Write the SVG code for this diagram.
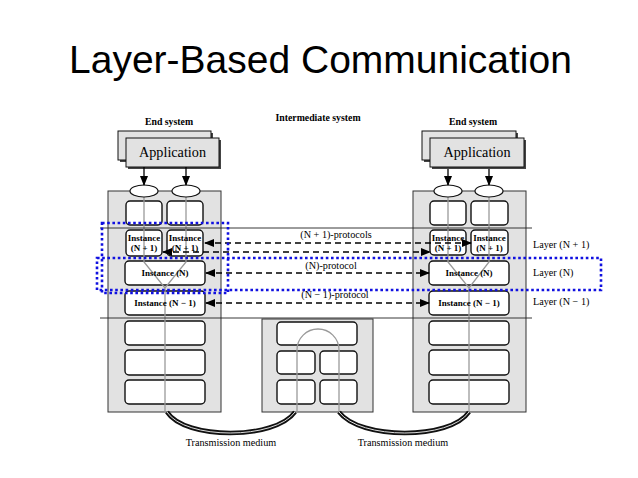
<svg xmlns="http://www.w3.org/2000/svg" width="638" height="478" viewBox="0 0 638 478">
<style>
.title{font-family:"Liberation Sans",Arial,sans-serif;font-size:39px;fill:#000}
.hdr{font-family:"Liberation Serif","Times New Roman",serif;font-weight:bold;font-size:9.8px;fill:#000}
.app{font-family:"Liberation Serif","Times New Roman",serif;font-size:14.2px;fill:#000}
.inst{font-family:"Liberation Serif","Times New Roman",serif;font-weight:bold;font-size:9px;fill:#000}
.lbl{font-family:"Liberation Serif","Times New Roman",serif;font-size:10.2px;fill:#000}
.sys{fill:#e2e2e2;stroke:#333;stroke-width:1}
.box{fill:#fff;stroke:#111;stroke-width:1.4}
.appbox{fill:#e2e2e2;stroke:#111;stroke-width:1}
.shadow{fill:#444}
.gray{fill:none;stroke:#9a9a9a;stroke-width:1.3}
.hline{stroke:#222;stroke-width:0.9}
.dash{stroke:#000;stroke-width:1.4;stroke-dasharray:6,4;fill:none}
.cable{fill:none;stroke:#111;stroke-width:4.5}
.cablein{fill:none;stroke:#ddd;stroke-width:1}
.blue{fill:none;stroke:#1010e0;stroke-width:2.6;stroke-dasharray:2.6,2.6}
</style>
<defs>
<marker id="ah" markerWidth="10" markerHeight="8" refX="9" refY="4" orient="auto-start-reverse" markerUnits="userSpaceOnUse">
<path d="M0,0 L10,4 L0,8 Z" fill="#000"/>
</marker>
</defs>
<rect width="638" height="478" fill="#fff"/>
<text class="title" x="69" y="73">Layer-Based Communication</text>

<text class="hdr" x="169" y="125" text-anchor="middle">End system</text>
<text class="hdr" x="318" y="121" text-anchor="middle">Intermediate system</text>
<text class="hdr" x="473" y="125" text-anchor="middle">End system</text>

<g id="left-end-system">
<rect class="sys" x="108" y="191" width="113" height="221"/>
<rect class="shadow" x="120" y="133" width="93" height="29"/>
<rect class="appbox" x="118" y="131" width="93" height="29"/>
<rect class="shadow" x="128" y="140" width="93" height="29"/>
<rect class="appbox" x="126" y="138" width="93" height="29"/>
<text class="app" x="172.5" y="157" text-anchor="middle">Application</text>
<rect class="box" x="126" y="201" width="36" height="24" rx="4"/>
<rect class="box" x="167" y="201" width="36" height="24" rx="4"/>
<rect class="box" x="126" y="230" width="36" height="26" rx="4"/>
<rect class="box" x="167" y="230" width="36" height="26" rx="4"/>
<rect class="box" x="125" y="261" width="80" height="24" rx="4"/>
<rect class="box" x="125" y="291" width="80" height="24" rx="4"/>
<rect class="box" x="125" y="321" width="80" height="24" rx="4"/>
<rect class="box" x="125" y="350" width="80" height="25" rx="4"/>
<rect class="box" x="125" y="380" width="80" height="24" rx="4"/>
<path class="gray" d="M144,191 L144,262 L165,288 L186,262 L186,191 M165,288 L165,412"/>
<ellipse cx="144" cy="191" rx="14" ry="6" fill="#fff" stroke="#111" stroke-width="1.2"/>
<ellipse cx="186" cy="191" rx="14" ry="6" fill="#fff" stroke="#111" stroke-width="1.2"/>
<text class="inst" x="144" y="241" text-anchor="middle">Instance</text>
<text class="inst" x="144" y="251" text-anchor="middle">(N + 1)</text>
<text class="inst" x="185" y="241" text-anchor="middle">Instance</text>
<text class="inst" x="185" y="251" text-anchor="middle">(N + 1)</text>
<text class="inst" x="165" y="276" text-anchor="middle">Instance (N)</text>
<text class="inst" x="165" y="306" text-anchor="middle">Instance (N − 1)</text>
</g>

<g id="intermediate-system">
<rect class="sys" x="262" y="319" width="111" height="93"/>
<rect class="box" x="277" y="322" width="80" height="23" rx="4"/>
<rect class="box" x="277" y="351" width="38" height="23" rx="4"/>
<rect class="box" x="320" y="351" width="37" height="23" rx="4"/>
<rect class="box" x="277" y="380" width="38" height="24" rx="4"/>
<rect class="box" x="320" y="380" width="37" height="24" rx="4"/>
<path class="gray" d="M297,412 L297,350 A21,21 0 0 1 339,350 L339,412"/>
</g>

<g id="right-end-system">
<rect class="sys" x="413" y="191" width="113" height="221"/>
<rect class="shadow" x="424" y="133" width="94" height="29"/>
<rect class="appbox" x="422" y="131" width="94" height="29"/>
<rect class="shadow" x="432" y="140" width="94" height="29"/>
<rect class="appbox" x="430" y="138" width="94" height="29"/>
<text class="app" x="477" y="157" text-anchor="middle">Application</text>
<rect class="box" x="430" y="201" width="36" height="24" rx="4"/>
<rect class="box" x="471" y="201" width="37" height="24" rx="4"/>
<rect class="box" x="430" y="230" width="36" height="25" rx="4"/>
<rect class="box" x="471" y="230" width="37" height="25" rx="4"/>
<rect class="box" x="429" y="261" width="80" height="24" rx="4"/>
<rect class="box" x="429" y="291" width="80" height="24" rx="4"/>
<rect class="box" x="429" y="321" width="80" height="24" rx="4"/>
<rect class="box" x="429" y="350" width="80" height="25" rx="4"/>
<rect class="box" x="429" y="380" width="80" height="24" rx="4"/>
<path class="gray" d="M448,191 L448,262 L469,288 L489,262 L489,191 M469,288 L469,412"/>
<ellipse cx="448" cy="191" rx="14" ry="6" fill="#fff" stroke="#111" stroke-width="1.2"/>
<ellipse cx="489" cy="191" rx="14" ry="6" fill="#fff" stroke="#111" stroke-width="1.2"/>
<text class="inst" x="448" y="241" text-anchor="middle">Instance</text>
<text class="inst" x="448" y="251" text-anchor="middle">(N + 1)</text>
<text class="inst" x="489.5" y="241" text-anchor="middle">Instance</text>
<text class="inst" x="489.5" y="251" text-anchor="middle">(N + 1)</text>
<text class="inst" x="469" y="276" text-anchor="middle">Instance (N)</text>
<text class="inst" x="469" y="306" text-anchor="middle">Instance (N − 1)</text>
</g>

<g id="connectors">
<line class="hline" x1="100" y1="228" x2="532" y2="228"/>
<line class="hline" x1="100" y1="318" x2="532" y2="318"/>
<line x1="144" y1="167" x2="144" y2="185" stroke="#000" stroke-width="1.3" marker-end="url(#ah)"/>
<line x1="186" y1="167" x2="186" y2="185" stroke="#000" stroke-width="1.3" marker-end="url(#ah)"/>
<line x1="448" y1="169" x2="448" y2="185" stroke="#000" stroke-width="1.3" marker-end="url(#ah)"/>
<line x1="489" y1="169" x2="489" y2="185" stroke="#000" stroke-width="1.3" marker-end="url(#ah)"/>
<line class="dash" x1="205" y1="243" x2="471" y2="243" marker-start="url(#ah)" marker-end="url(#ah)"/>
<line class="dash" x1="163" y1="252" x2="430" y2="252" marker-start="url(#ah)" marker-end="url(#ah)"/>
<line class="dash" x1="206" y1="273" x2="429" y2="273" marker-start="url(#ah)" marker-end="url(#ah)"/>
<line class="dash" x1="206" y1="303" x2="429" y2="303" marker-start="url(#ah)" marker-end="url(#ah)"/>
<path class="cable" d="M167,412 C185,440 275,440 295,412"/>
<path class="cablein" d="M167,412 C185,440 275,440 295,412"/>
<path class="cable" d="M339,412 C360,440 450,440 469,412"/>
<path class="cablein" d="M339,412 C360,440 450,440 469,412"/>
</g>

<text class="lbl" x="336" y="238" text-anchor="middle">(N + 1)-protocols</text>
<text class="lbl" x="331" y="269" text-anchor="middle">(N)-protocol</text>
<text class="lbl" x="335" y="298" text-anchor="middle">(N − 1)-protocol</text>
<text class="lbl" x="533" y="248" font-size="10.6">Layer (N + 1)</text>
<text class="lbl" x="533" y="276" font-size="10.6">Layer (N)</text>
<text class="lbl" x="533" y="305" font-size="10.6">Layer (N − 1)</text>
<text class="lbl" x="231" y="446" text-anchor="middle">Transmission medium</text>
<text class="lbl" x="403" y="446" text-anchor="middle">Transmission medium</text>

<rect class="blue" x="102" y="223" width="126" height="70"/>
<rect class="blue" x="97" y="258" width="504" height="32"/>
</svg>
